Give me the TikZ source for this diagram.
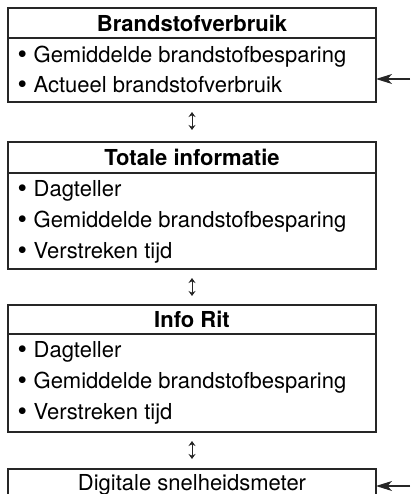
\documentclass[tikz,border=0pt]{standalone}
\usepackage{fontspec}
\setmainfont{TeX Gyre Heros}
\usetikzlibrary{arrows.meta, positioning, calc}
\newcommand{\menuFont}{\fontsize{22}{26}\selectfont}
\newcommand{\menuDot}{\raisebox{-1.2pt}{\fontsize{27}{27}\selectfont\textbullet}\hspace{6.5pt}}
\tikzset{
    panel/.style={draw=black!85, line width=1.1pt, outer sep=0pt, inner sep=0pt,
        minimum width=368pt},
    panelHead/.style={panel, font=\menuFont\bfseries},
    panelBody/.style={panel},
    item/.style={anchor=west, inner sep=0pt, text height=15.6pt, text depth=4.5pt,
        font=\menuFont},
    menuLink/.style={{Stealth[length=5pt,width=7pt]}-{Stealth[length=5pt,width=7pt]},
        line width=1pt, black!85},
    entryArrow/.style={-{Stealth[length=16pt,width=10pt,inset=4.5pt]}, line width=1.1pt,
        black!85},
}

\begin{document}
\begin{tikzpicture}[x=1pt, y=-1pt]
    \useasboundingbox (0,0) rectangle (410,494);

    % Brandstofverbruik
    \node[panelHead, minimum height=30pt] (bv) at (192,23) {Brandstofverbruik};
    \node[panelBody, below=0pt of bv, minimum height=64pt] (bvList) {};
    \foreach \txt [count=\i from 0] in {Gemiddelde brandstofbesparing, Actueel brandstofverbruik}
        \node[item] (bv\i) at ($(bvList.north west)+(9.5,19+30*\i)$) {\menuDot\txt};

    % Totale informatie
    \node[panelHead, minimum height=31pt] (ti) at (192,157.5) {Totale informatie};
    \node[panelBody, below=0pt of ti, minimum height=96pt] (tiList) {};
    \foreach \txt [count=\i from 0] in {Dagteller, Gemiddelde brandstofbesparing, Verstreken tijd}
        \node[item] (ti\i) at ($(tiList.north west)+(9.5,18+31*\i)$) {\menuDot\txt};

    % Info Rit
    \node[panelHead, minimum height=29pt] (ir) at (192,319.5) {Info Rit};
    \node[panelBody, below=0pt of ir, minimum height=98pt] (irList) {};
    \foreach \txt [count=\i from 0] in {Dagteller, Gemiddelde brandstofbesparing, Verstreken tijd}
        \node[item] (ir\i) at ($(irList.north west)+(9.5,18+31*\i)$) {\menuDot\txt};

    % Digitale snelheidsmeter
    \node[panel, minimum height=32pt, font=\menuFont] (ds) at (192,485) {Digitale snelheidsmeter};

    % Links between screens
    \draw[menuLink, shorten <=10pt, shorten >=12pt] (bvList.south) -- (ti.north);
    \draw[menuLink, shorten <=9pt, shorten >=9pt] (tiList.south) -- (ir.north);
    \draw[menuLink, shorten <=9pt, shorten >=10pt] (irList.south) -- (ds.north);

    % Entry points
    \coordinate (inBv) at (410,79);
    \coordinate (inDs) at (410,486);
    \draw[entryArrow] (inBv) -- (inBv -| bvList.east);
    \draw[entryArrow] (inDs) -- (inDs -| ds.east);
\end{tikzpicture}
\end{document}
